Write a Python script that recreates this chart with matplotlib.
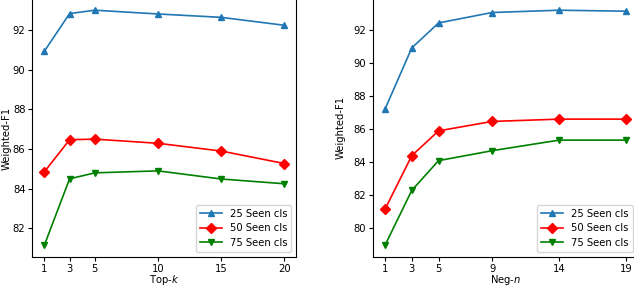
# Weighted-F1 vs Top-k / Neg-n

import matplotlib
matplotlib.use('Agg')
import matplotlib.pyplot as plt

# Left panel data (Top-k)
top_k = [1, 3, 5, 10, 15, 20]
topk_25 = [90.93, 92.83, 93.0, 92.81, 92.64, 92.24]
topk_50 = [84.85, 86.47, 86.5, 86.29, 85.9, 85.27]
topk_75 = [81.15, 84.5, 84.8, 84.9, 84.49, 84.25]

# Right panel data (Neg-n)
neg_n = [1, 3, 5, 9, 14, 19]
negn_25 = [87.22, 90.92, 92.43, 93.06, 93.2, 93.14]
negn_50 = [81.16, 84.4, 85.9, 86.47, 86.61, 86.61]
negn_75 = [78.98, 82.3, 84.1, 84.7, 85.34, 85.34]

labels = ['25 Seen cls', '50 Seen cls', '75 Seen cls']

plt.rcParams['font.size'] = 7.2

fig = plt.figure(figsize=(6.34, 2.86), dpi=100)
ax1 = fig.add_axes([0.051, 0.1014, 0.4164, 0.904])
ax2 = fig.add_axes([0.5883, 0.1014, 0.418, 0.904])


def draw(ax, xs, s25, s50, s75, xlabel):
    ax.plot(xs, s25, color='#1f77b4', marker='^', ms=5, lw=1.2, label=labels[0])
    ax.plot(xs, s50, color='red', marker='D', ms=5, lw=1.2, label=labels[1])
    ax.plot(xs, s75, color='green', marker='v', ms=5, lw=1.2, label=labels[2])
    ax.set_xticks(xs)
    ax.set_xlabel(xlabel)
    ax.set_ylabel('Weighted-F1')
    ax.tick_params(length=3, pad=2)
    ax.legend(loc='lower right', fontsize=7.2, handlelength=2.2,
              borderpad=0.4, labelspacing=0.45)


draw(ax1, top_k, topk_25, topk_50, topk_75, 'Top-$k$')
draw(ax2, neg_n, negn_25, negn_50, negn_75, 'Neg-$n$')

ax1.yaxis.set_label_coords(-0.077, 0.46)
ax2.yaxis.set_label_coords(-0.102, 0.5)
ax1.xaxis.set_label_coords(0.5, -0.06)
ax2.xaxis.set_label_coords(0.5, -0.06)

fig.savefig('out.png', dpi=100)
